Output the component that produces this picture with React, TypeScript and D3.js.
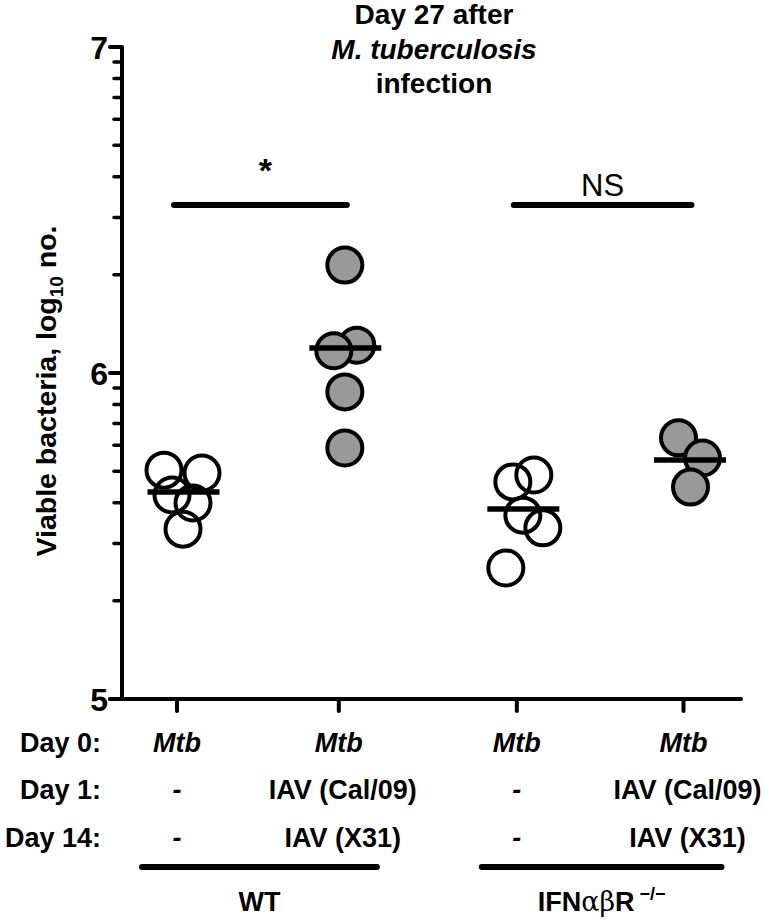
import React from "react";
import * as d3 from "d3";

// ---- data ----
const groupPositions = [1, 2, 3.1, 4.13];
const groupFilled = [false, true, false, true];
const groupValues: number[][] = [
  [5.702, 5.693, 5.626, 5.601, 5.521],
  [6.331, 6.085, 6.068, 5.942, 5.770],
  [5.666, 5.687, 5.564, 5.525, 5.402],
  [5.801, 5.739, 5.650],
];
// horizontal jitter of each point (px)
const groupJitter: number[][] = [
  [-13, 25, -5, 16, 6],
  [6, 18, -5, 6, 6],
  [-4, 17, 6, 26, -11],
  [-5, 19, 7],
];
const groupMedians = [5.635, 6.077, 5.583, 5.733];
const yMajorTicks = [5, 6, 7];
const day0Labels = ["Mtb", "Mtb", "Mtb", "Mtb"];
const day1Labels = ["-", "IAV (Cal/09)", "-", "IAV (Cal/09)"];
const day14Labels = ["-", "IAV (X31)", "-", "IAV (X31)"];
const rowLabels = ["Day 0:", "Day 1:", "Day 14:"];
const sigPairs: [number, number, string][] = [
  [0, 1, "*"],
  [2, 3, "NS"],
];
const genotypes: [number, number, string][] = [
  [0, 1, "WT"],
  [2, 3, "IFN"],
];
const titleLines = ["Day 27 after", "M. tuberculosis", "infection"];

const W = 765;
const H = 920;
const FONT = "'Liberation Sans', Arial, Helvetica, sans-serif";

export default function App() {
  const y = d3.scaleLinear().domain([5, 7]).range([699, 47]);
  const x = d3
    .scaleLinear()
    .domain([groupPositions[0], groupPositions[3]])
    .range([177, 683.5]);
  const axisX = 122;
  const axisRight = 741;
  const dataShift = 6.5;

  const minorTicks: number[] = [];
  for (const dec of [5, 6]) {
    for (let k = 2; k <= 9; k++) minorTicks.push(dec + Math.log10(k));
  }

  const rowY = [752, 799, 847];
  const rowData = [day0Labels, day1Labels, day14Labels];
  const FS = 27;

  return (
    <svg width={W} height={H} style={{ display: "block", position: "absolute", left: 0, top: 0 }} fontFamily={FONT}>
      <rect width={W} height={H} fill="#fff" />
      {/* title */}
      {titleLines.map((t, i) => (
        <text
          key={t}
          x={434}
          y={24 + i * 34.5}
          textAnchor="middle"
          fontSize={28}
          fontWeight="bold"
          fontStyle={i === 1 ? "italic" : "normal"}
        >
          {t}
        </text>
      ))}

      {/* y axis */}
      <line x1={axisX} x2={axisX} y1={y(7)} y2={y(5)} stroke="#000" strokeWidth={4} />
      {yMajorTicks.map((t) => (
        <g key={t}>
          <line x1={axisX - 12} x2={axisX} y1={y(t)} y2={y(t)} stroke="#000" strokeWidth={4} strokeLinecap="round" />
          <text x={108} y={y(t) + 11.5} textAnchor="end" fontSize={32} fontWeight="bold">
            {t}
          </text>
        </g>
      ))}
      {minorTicks.map((t) => (
        <line key={t} x1={axisX - 8} x2={axisX} y1={y(t)} y2={y(t)} stroke="#000" strokeWidth={3.5} strokeLinecap="round" />
      ))}
      <text
        transform={`translate(56,391) rotate(-90)`}
        textAnchor="middle"
        fontSize={28.5}
        fontWeight="bold"
      >
        Viable bacteria, log
        <tspan fontSize={19} dy={7}>10</tspan>
        <tspan dy={-7}> no.</tspan>
      </text>

      {/* x axis */}
      <line x1={axisX - 12} x2={axisRight} y1={y(5)} y2={y(5)} stroke="#000" strokeWidth={4} strokeLinecap="round" />
      {groupPositions.map((p) => (
        <line key={p} x1={x(p)} x2={x(p)} y1={y(5)} y2={y(5) + 12} stroke="#000" strokeWidth={4} strokeLinecap="round" />
      ))}

      {/* points */}
      {groupValues.map((vals, gi) =>
        vals.map((v, i) => (
          <circle
            key={`${gi}-${i}`}
            cx={x(groupPositions[gi]) + groupJitter[gi][i]}
            cy={y(v)}
            r={17.5}
            fill={groupFilled[gi] ? "#999999" : "none"}
            stroke="#000"
            strokeWidth={4}
          />
        ))
      )}
      {/* medians */}
      {groupMedians.map((m, gi) => (
        <line
          key={gi}
          x1={x(groupPositions[gi]) + dataShift - 36}
          x2={x(groupPositions[gi]) + dataShift + 36}
          y1={y(m)}
          y2={y(m)}
          stroke="#000"
          strokeWidth={5.5}
        />
      ))}

      {/* significance */}
      {sigPairs.map(([a, b, lab]) => {
        const x1 = x(groupPositions[a]) - 3;
        const x2 = x(groupPositions[b]) + 8;
        const star = lab === "*";
        return (
          <g key={lab}>
            <line x1={x1} x2={x2} y1={205} y2={205} stroke="#000" strokeWidth={6} strokeLinecap="round" />
            <text
              x={(x1 + x2) / 2 + (star ? 5 : 0)}
              y={star ? 182 : 196}
              textAnchor="middle"
              fontSize={star ? 34 : 31}
              fontWeight={star ? "bold" : "normal"}
            >
              {lab}
            </text>
          </g>
        );
      })}

      {/* bottom label rows */}
      {rowLabels.map((r, i) => (
        <text key={r} x={101} y={rowY[i]} textAnchor="end" fontSize={FS} fontWeight="bold">
          {r}
        </text>
      ))}
      {rowData.map((row, ri) =>
        row.map((lab, gi) => (
          <text
            key={`${ri}-${gi}`}
            x={x(groupPositions[gi]) + (lab === "Mtb" || lab === "-" ? 0 : 4)}
            y={rowY[ri]}
            textAnchor="middle"
            fontSize={FS}
            fontWeight="bold"
            fontStyle={lab === "Mtb" || lab === "-" ? "italic" : "normal"}
          >
            {lab}
          </text>
        ))
      )}

      {/* genotype bars */}
      {genotypes.map(([a, b, lab]) => {
        const x1 = x(groupPositions[a]) - 35;
        const x2 = x(groupPositions[b]) + 38;
        const cx = (x1 + x2) / 2;
        return (
          <g key={lab}>
            <line x1={x1} x2={x2} y1={867} y2={867} stroke="#000" strokeWidth={6} strokeLinecap="round" />
            {lab === "WT" ? (
              <text x={cx} y={911} textAnchor="middle" fontSize={FS} fontWeight="bold">
                WT
              </text>
            ) : (
              <text x={cx} y={911} textAnchor="middle" fontSize={FS} fontWeight="bold">
                IFN
                <tspan fontWeight="normal" fontFamily="'DejaVu Serif', serif">αβ</tspan>
                R
                <tspan fontSize={18} dy={-11}> −/−</tspan>
              </text>
            )}
          </g>
        );
      })}
    </svg>
  );
}
